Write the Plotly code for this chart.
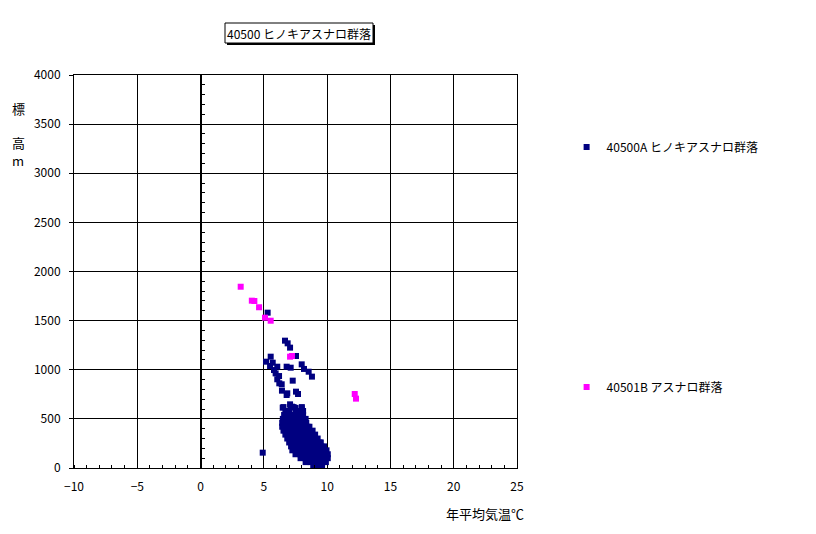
import plotly.graph_objects as go

# ---- data ----
title_text = "40500 ヒノキアスナロ群落"
series_a_name = "40500A ヒノキアスナロ群落"
series_b_name = "40501B アスナロ群落"
x_title = "年平均気温℃"
y_title_chars = ["標", "高", "m"]

x_ticks = [-10, -5, 0, 5, 10, 15, 20, 25]
y_ticks = [0, 500, 1000, 1500, 2000, 2500, 3000, 3500, 4000]

# Series B (magenta) - annual mean temperature, elevation
b_temp = [3.17, 4.05, 4.25, 4.62, 5.09, 5.54, 7.07, 7.22, 12.18, 12.28]
b_elev = [1845, 1703, 1700, 1636, 1530, 1499, 1133, 1140, 753, 706]

# Series A (navy) - scattered points
a_temp_sparse = [5.30, 6.67, 6.88, 7.07, 7.54, 5.54, 5.17, 5.70, 5.49, 6.06, 6.80, 7.12,
                 7.99, 8.17, 8.54, 8.80, 5.80, 5.93, 6.20, 6.06, 6.22, 6.41, 7.28, 6.43,
                 6.85, 6.80, 7.54, 7.70, 6.49, 7.07, 7.22, 7.50, 7.99, 4.91]
a_elev_sparse = [1581, 1296, 1269, 1225, 1140, 1133, 1082, 1072, 1038, 1031, 1031, 1021,
                 1055, 1008, 980, 930, 997, 963, 936, 903, 862, 852, 889, 787,
                 760, 743, 777, 753, 614, 648, 624, 612, 607, 156]

# Series A dense cluster, read row by row (elevation, temperatures)
a_rows_elev = [620, 580, 540, 500, 460, 420, 380, 340, 300, 260, 220, 180, 140, 100, 60, 25, 10]
a_rows_temp = [
    [6.55, 7.1, 7.35, 8.0],
    [6.7, 7.0, 7.5, 7.9, 8.1],
    [6.6, 7.0, 7.4, 7.8, 8.1],
    [6.5, 6.9, 7.3, 7.7, 8.1, 8.3],
    [6.45, 6.85, 7.25, 7.65, 8.05, 8.35],
    [6.45, 6.85, 7.25, 7.65, 8.05, 8.45, 8.6],
    [6.55, 6.95, 7.35, 7.75, 8.15, 8.55, 8.85],
    [6.7, 7.1, 7.5, 7.9, 8.3, 8.7, 9.05],
    [6.85, 7.25, 7.65, 8.05, 8.45, 8.85, 9.25],
    [7.0, 7.4, 7.8, 8.2, 8.6, 9.0, 9.4, 9.5],
    [7.15, 7.55, 7.95, 8.35, 8.75, 9.15, 9.55, 9.75],
    [7.25, 7.65, 8.05, 8.45, 8.85, 9.25, 9.65, 9.95],
    [7.5, 7.9, 8.3, 8.7, 9.1, 9.5, 9.9, 10.05],
    [7.9, 8.3, 8.7, 9.1, 9.5, 9.9, 10.05],
    [8.3, 8.7, 9.1, 9.5, 9.9],
    [8.9, 9.3, 9.6],
    [9.1, 9.5],
]

a_temp = list(a_temp_sparse)
a_elev = list(a_elev_sparse)
for e, row in zip(a_rows_elev, a_rows_temp):
    for t in row:
        a_temp.append(t)
        a_elev.append(e)

FONT = "Noto Sans CJK JP"

fig = go.Figure()
fig.add_trace(go.Scatter(
    x=a_temp, y=a_elev, mode="markers", name=series_a_name,
    marker=dict(symbol="square", size=6, color="#000080", line=dict(width=0)),
    legend="legend",
))
fig.add_trace(go.Scatter(
    x=b_temp, y=b_elev, mode="markers", name=series_b_name,
    marker=dict(symbol="square", size=6, color="#FF00FF", line=dict(width=0)),
    legend="legend2",
))
# invisible trace to carry the axis drawn at x = 0 with minor ticks
fig.add_trace(go.Scatter(x=[None], y=[None], yaxis="y2", showlegend=False, hoverinfo="skip"))

x_min, x_max = -10, 25
y_min, y_max = 0, 4000

fig.update_layout(
    width=816, height=534,
    margin=dict(l=74, r=299, t=75, b=66),
    paper_bgcolor="white", plot_bgcolor="white",
    font=dict(family=FONT, size=12, color="black"),
    xaxis=dict(
        range=[x_min, x_max], tickvals=x_ticks, ticktext=[str(v).replace("-", "−") for v in x_ticks],
        showgrid=True, gridcolor="black", gridwidth=1,
        showline=True, linecolor="black", linewidth=1, mirror=True,
        zeroline=False,
        ticks="", ticklabelstandoff=8,
        minor=dict(ticks="inside", dtick=1, ticklen=3, tickcolor="black", showgrid=False),
        tickfont=dict(family=FONT, size=12),
    ),
    yaxis=dict(
        range=[y_min, y_max], tickvals=y_ticks,
        showgrid=True, gridcolor="black", gridwidth=1,
        showline=True, linecolor="black", linewidth=1, mirror=True,
        zeroline=False, ticks="outside", ticklen=4, tickcolor="black",
        ticklabelstandoff=6,
        tickfont=dict(family=FONT, size=12),
    ),
    yaxis2=dict(
        range=[y_min, y_max], overlaying="y", anchor="free",
        position=(0 - x_min) / (x_max - x_min), side="right",
        showline=True, linecolor="black", linewidth=1,
        showgrid=False, zeroline=False, showticklabels=False, ticks="",
        minor=dict(ticks="outside", dtick=100, ticklen=3, tickcolor="black"),
    ),
    legend=dict(
        x=1.112, y=0.817, xanchor="left", yanchor="middle",
        bgcolor="rgba(0,0,0,0)", font=dict(family=FONT, size=12),
        itemwidth=30,
    ),
    legend2=dict(
        x=1.112, y=0.206, xanchor="left", yanchor="middle",
        bgcolor="rgba(0,0,0,0)", font=dict(family=FONT, size=12),
        itemwidth=30,
    ),
    showlegend=True,
)

# title box with drop shadow
def px_x(p):
    return (p - 74) / 443.0

def px_y(p):
    return (468 - p) / 393.0

fig.add_shape(type="rect", xref="paper", yref="paper",
              x0=px_x(227), x1=px_x(375), y0=px_y(45), y1=px_y(25),
              fillcolor="black", line=dict(width=0), layer="above")
fig.add_shape(type="rect", xref="paper", yref="paper",
              x0=px_x(225), x1=px_x(373), y0=px_y(43), y1=px_y(23),
              fillcolor="white", line=dict(color="black", width=1), layer="above")
fig.add_annotation(text=title_text, xref="paper", yref="paper",
                   x=px_x(299), y=px_y(33), showarrow=False,
                   font=dict(family=FONT, size=12), xanchor="center", yanchor="middle")

# y-axis title stacked vertically
for ch, py in zip(y_title_chars, [108, 142, 160]):
    fig.add_annotation(text=ch, xref="paper", yref="paper", x=px_x(18), y=px_y(py),
                       showarrow=False, xanchor="center", yanchor="middle",
                       font=dict(family=FONT, size=13))

fig.add_annotation(text=x_title, xref="paper", yref="paper", x=px_x(485), y=px_y(513),
                   showarrow=False, xanchor="center", yanchor="middle",
                   font=dict(family=FONT, size=13))

fig.write_html("out.html", config={"displayModeBar": False},
               post_script="document.body.style.margin='0px';")
